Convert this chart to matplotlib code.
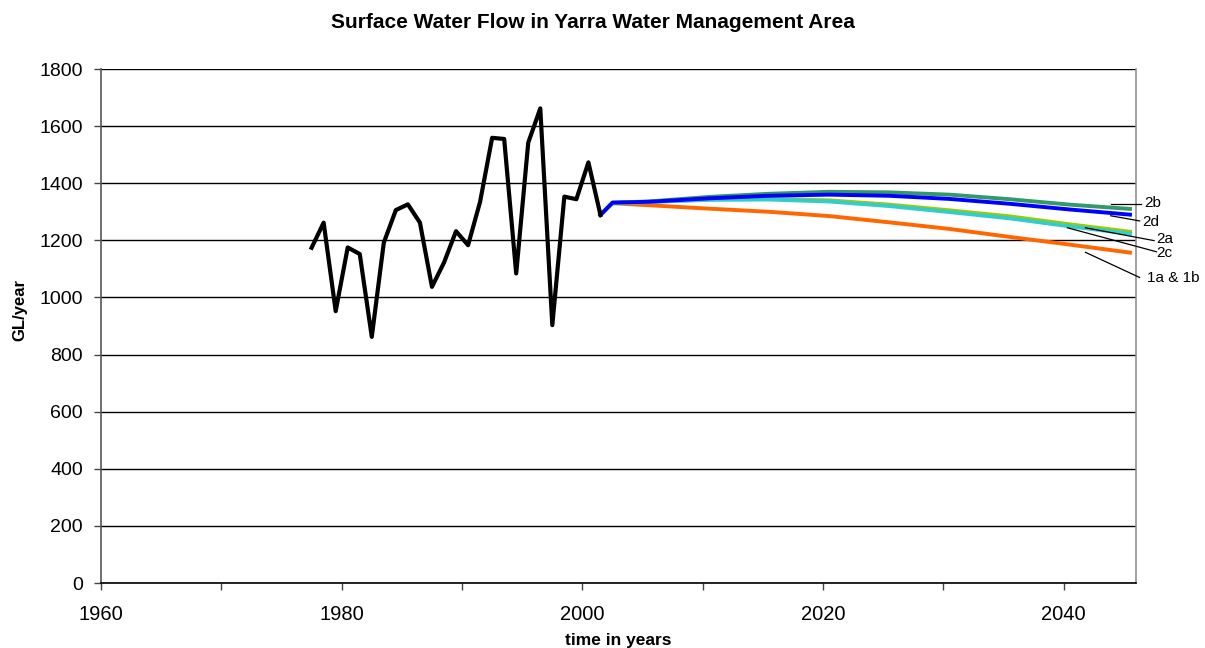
import matplotlib
matplotlib.use("Agg")
import matplotlib.pyplot as plt

plt.rcParams['font.family'] = ['Liberation Sans', 'DejaVu Sans']

# Historical observed flow (GL/year), plotted at mid-year
hist_years = [1977.5, 1978.5, 1979.5, 1980.5, 1981.5, 1982.5, 1983.5, 1984.5,
              1985.5, 1986.5, 1987.5, 1988.5, 1989.5, 1990.5, 1991.5, 1992.5,
              1993.5, 1994.5, 1995.5, 1996.5, 1997.5, 1998.5, 1999.5, 2000.5,
              2001.5]
hist_flow = [1174, 1262, 952, 1175, 1152, 862, 1192, 1306, 1326, 1262, 1037,
             1122, 1232, 1183, 1335, 1559, 1555, 1084, 1542, 1662, 903, 1353,
             1344, 1473, 1289]

# Scenario projections
proj_years = [2001.5, 2002.5, 2005.5, 2010.5, 2015.5, 2020.5, 2025.5, 2030.5,
              2035.5, 2040.5, 2045.5]
s_1a1b = [1289, 1330, 1323, 1311, 1300, 1285, 1263, 1240, 1212, 1185, 1157]
s_2a = [1289, 1330, 1335, 1343, 1345, 1340, 1325, 1305, 1284, 1256, 1230]
s_2b = [1289, 1332, 1336, 1352, 1363, 1370, 1368, 1360, 1344, 1325, 1310]
s_2c = [1289, 1330, 1334, 1342, 1343, 1336, 1320, 1299, 1277, 1249, 1223]
s_2d = [1289, 1332, 1335, 1347, 1356, 1360, 1356, 1345, 1328, 1308, 1290]

labels = ['2b', '2d', '2a', '2c', '1a & 1b']
label_start = [(2043.9, 1326), (2043.9, 1286), (2041.8, 1244), (2040.3, 1244), (2041.8, 1158)]
label_end = [(2046.4, 1326), (2046.3, 1268), (2047.5, 1199), (2047.7, 1160), (2046.3, 1070)]
label_pos = [(2046.7, 1329), (2046.5, 1264), (2047.7, 1206), (2047.7, 1155), (2046.9, 1068)]

fig = plt.figure(figsize=(12.05, 6.48), dpi=100)
ax = fig.add_axes([101/1205, 1-583/648, (1136-101)/1205, (583-69)/648])

lw = 2.8
ax.plot(proj_years, s_1a1b, color='#FF6600', lw=lw, zorder=3)
ax.plot(proj_years, s_2b, color='#339966', lw=lw, zorder=3)
ax.plot(proj_years, s_2a, color='#99CC00', lw=lw, zorder=3)
ax.plot(proj_years, s_2c, color='#33CCCC', lw=lw, zorder=3)
ax.plot(proj_years, s_2d, color='#0000FF', lw=lw, zorder=3)
ax.plot(hist_years, hist_flow, color='black', lw=3.0, zorder=4)

ax.set_xlim(1960, 2046)
ax.set_ylim(0, 1800)
ax.set_yticks(range(0, 1801, 200))
ax.set_xticks(range(1960, 2041, 10))
ax.set_xticklabels([str(y) if y % 20 == 0 else '' for y in range(1960, 2041, 10)])
ax.tick_params(axis='both', direction='out', length=5, width=1, labelsize=14, color='#444444')
ax.tick_params(axis='x', pad=11, labelsize=14.5)
ax.tick_params(axis='y', pad=8)

ax.grid(axis='y', color='black', lw=1)
ax.set_axisbelow(True)
ax.spines['top'].set_visible(False)
ax.spines['left'].set_color('#555555')
ax.spines['bottom'].set_color('black')
ax.spines['right'].set_color('#909090')
for s in ax.spines.values():
    s.set_linewidth(1.2)

fig.text(593/1205, 1-22/648, 'Surface Water Flow in Yarra Water Management Area',
         ha='center', va='center', fontsize=15, fontweight='bold')
fig.text(618/1205, 1-640/648, 'time in years', ha='center', va='center',
         fontsize=12.5, fontweight='bold')
fig.text(20/1205, 1-310/648, 'GL/year', ha='center', va='center', rotation=90,
         fontsize=12, fontweight='bold')

for lab, st, en, pos in zip(labels, label_start, label_end, label_pos):
    ax.plot([st[0], en[0]], [st[1], en[1]], color='black', lw=0.9, clip_on=False, zorder=5)
    ax.text(pos[0], pos[1], lab, ha='left', va='center', fontsize=11, clip_on=False)

fig.savefig('out.png', dpi=100)
